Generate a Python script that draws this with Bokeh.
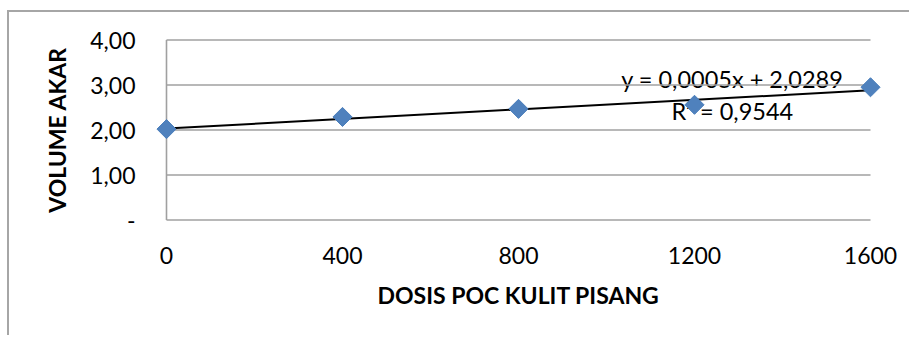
import numpy as np
from bokeh.plotting import figure
from bokeh.models import Range1d, FixedTicker, Label
from bokeh.embed import file_html
from bokeh.resources import INLINE

# ---- data ----
dosis = [0, 400, 800, 1200, 1600]
volume = [2.02, 2.29, 2.47, 2.56, 2.95]
x_ticks = [0, 400, 800, 1200, 1600]
y_ticks = [0, 1, 2, 3, 4]
y_tick_labels = ["-", "1,00", "2,00", "3,00", "4,00"]
eq_text = "y = 0,0005x + 2,0289"
r2_text = "R\u00b2 = 0,9544"
x_title = "DOSIS POC KULIT PISANG"
y_title = "VOLUME AKAR"

FONT = "Lato"
GRID = "#a0a0a0"
BLUE_FILL = "#4f81bd"
BLUE_LINE = "#4a7ebb"

p = figure(width=902, height=325,
           x_range=Range1d(-25, 1625), y_range=Range1d(-0.1, 4.1),
           output_backend="svg", toolbar_location=None,
           min_border_left=146, min_border_right=30,
           min_border_top=23, min_border_bottom=113)
p.styles = {"border-left": "2px solid #a6a6a6",
            "border-top": "2px solid #a6a6a6",
            "margin-left": "7px",
            "margin-top": "10px"}
p.outline_line_color = None
p.background_fill_color = "white"
p.border_fill_color = "white"
p.xgrid.visible = False
p.ygrid.visible = False

# gridlines and y axis line from ticks
x0, x1 = min(x_ticks), max(x_ticks)
p.segment(x0=[x0] * len(y_ticks), x1=[x1] * len(y_ticks), y0=y_ticks, y1=y_ticks,
          line_color=GRID, line_width=1.6)
p.segment(x0=[x0], x1=[x0], y0=[min(y_ticks)], y1=[max(y_ticks)],
          line_color=GRID, line_width=1.6)

# trend label (under the markers)
lx = 1286
p.add_layout(Label(x=lx, y=3.14, text=eq_text, text_align="center",
                   text_baseline="middle", text_font=FONT, text_font_size="23.5px",
                   text_color="black", level="underlay"))
p.add_layout(Label(x=lx, y=2.43, text=r2_text, text_align="center",
                   text_baseline="middle", text_font=FONT, text_font_size="23.5px",
                   text_color="black", level="underlay"))

# linear trendline
coef = np.polyfit(dosis, volume, 1)
tx = [min(dosis), max(dosis)]
ty = [coef[0] * v + coef[1] for v in tx]
p.line(tx, ty, line_color="black", line_width=2)

# markers
p.scatter(dosis, volume, marker="square", angle=np.pi / 4, size=13.5,
          fill_color=BLUE_FILL, line_color=BLUE_LINE, line_width=1)

# axes
for ax in (p.xaxis, p.yaxis):
    ax.axis_line_color = None
    ax.major_tick_line_color = None
    ax.minor_tick_line_color = None
    ax.major_tick_out = 0
    ax.major_tick_in = 0
    ax.major_label_text_font = FONT
    ax.major_label_text_font_size = "23px"
    ax.major_label_text_color = "black"
    ax.axis_label_text_font = FONT
    ax.axis_label_text_font_size = "23px"
    ax.axis_label_text_font_style = "bold"
    ax.axis_label_text_color = "black"

p.xaxis.ticker = FixedTicker(ticks=x_ticks)
p.yaxis.ticker = FixedTicker(ticks=y_ticks)
p.yaxis.major_label_overrides = {t: l for t, l in zip(y_ticks, y_tick_labels)}
p.xaxis.major_label_standoff = 22
p.yaxis.major_label_standoff = 20
p.xaxis.axis_label = x_title
p.yaxis.axis_label = y_title
p.xaxis.axis_label_standoff = 14
p.yaxis.axis_label_standoff = 16

open("out.html", "w").write(file_html(p, INLINE))
